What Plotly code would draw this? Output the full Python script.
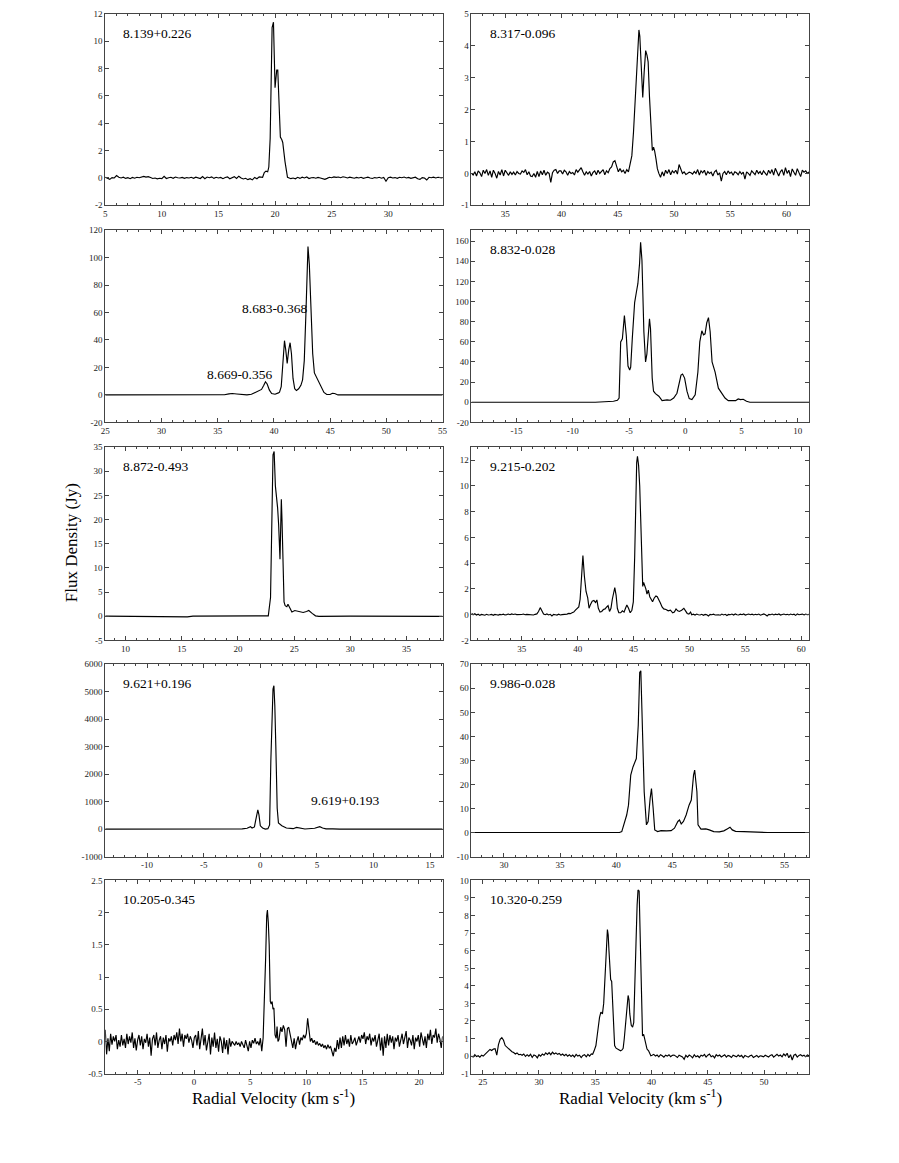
import plotly.graph_objects as go

W, H = 899, 1163          # browser window
OFF = 8                   # default page margin around the plot div

# ---------------- Panel 1 : 8.139+0.226 ----------------
P1_NAME = "8.139+0.226"
P1_XRANGE = [5.0, 34.8]
P1_YRANGE = [-2, 12]
P1_XTICKS = [5, 10, 15, 20, 25, 30]
P1_YTICKS = [-2, 0, 2, 4, 6, 8, 10, 12]
P1_STEP = 0.2
P1_A_START = 5.0
P1_A = [0.05, 0.0, -0.1, 0.03, 0.0, 0.18, 0.05, 0.0, 0.06, -0.03,
        0.02, -0.05, 0.04, -0.02, 0.05, 0.02, 0.08, 0.12, 0.06, 0.1,
        0.03, -0.04, 0.0, -0.06, -0.02, -0.05, 0.12, -0.04, 0.02, 0.05,
        -0.02, 0.07, 0.02, 0.0, 0.04, -0.03, 0.03, 0.0, 0.05, -0.02,
        0.06, 0.02, -0.04, 0.1, -0.05, 0.07, 0.02, 0.08, -0.03, 0.05,
        0.0, 0.04, -0.05, 0.03, 0.08, -0.06, 0.02, 0.1, -0.04, 0.13,
        0.0, -0.07, -0.02, -0.12, -0.05, -0.14, 0.04, -0.06, 0.08, 0.05]
P1_PEAK = [(18.9, 0.05), (19.05, 0.4), (19.2, 0.5), (19.35, 0.45), (19.45, 0.8),
           (19.57, 2.9), (19.66, 7.5), (19.74, 11.0), (19.8, 11.2), (19.86, 11.4),
           (19.93, 9.0), (20.0, 6.6), (20.08, 7.3), (20.15, 7.9), (20.24, 7.9),
           (20.32, 5.8), (20.47, 3.0), (20.6, 2.8), (20.68, 2.6), (20.88, 1.2),
           (21.1, 0.05), (21.25, 0.0)]
P1_B_START = 21.4
P1_B = [-0.05, 0.0, -0.06, 0.05, -0.03, 0.06, 0.0, 0.07, -0.04, 0.02,
        0.03, -0.02, 0.04, 0.0, -0.05, -0.1, -0.03, 0.05, 0.02, 0.08,
        0.04, 0.07, 0.02, 0.09, 0.05, 0.0, 0.06, 0.03, -0.02, 0.04,
        0.0, 0.05, -0.03, 0.02, 0.06, 0.0, -0.04, 0.03, 0.0, 0.05,
        -0.02, 0.04, -0.24, 0.02, 0.06, 0.0, 0.03, -0.03, 0.05, 0.02,
        0.07, 0.0, 0.04, -0.03, 0.02, 0.06, -0.06, -0.1, 0.03, 0.0,
        -0.15, 0.05, 0.02, 0.06, 0.0, 0.05, 0.03, 0.0]

# ---------------- Panel 2 : 8.317-0.096 ----------------
P2_NAME = "8.317-0.096"
P2_XRANGE = [32.0, 62.0]
P2_YRANGE = [-1, 5]
P2_XTICKS = [35, 40, 45, 50, 55, 60]
P2_YTICKS = [-1, 0, 1, 2, 3, 4, 5]
P2_STEP = 0.15
P2_A_START = 32.0
P2_A = [0.0, -0.05, 0.05, -0.08, 0.08, 0.02, -0.1, 0.1, 0.0, 0.12,
        -0.06, 0.08, -0.12, 0.1, 0.0, -0.15, 0.06, -0.05, 0.12, -0.08,
        0.1, 0.0, -0.06, 0.05, -0.03, 0.04, -0.05, 0.06, 0.0, -0.02,
        0.08, 0.03, 0.12, -0.04, 0.05, -0.08, -0.1, 0.0, -0.12, 0.06,
        -0.1, 0.08, -0.04, 0.1, -0.06, 0.04, 0.0, -0.28, 0.02, 0.1,
        0.12, 0.0, 0.08, 0.08, -0.02, 0.1, 0.05, -0.06, 0.06, 0.0,
        0.03, -0.05, 0.12, 0.04, 0.1, 0.18, 0.05, -0.06, 0.05, -0.02,
        0.06, -0.08, 0.03, 0.08, -0.04, 0.1, 0.0, 0.05, 0.12, -0.04,
        0.08, 0.02, 0.15, 0.2]
P2_PEAK = [(44.6, 0.36), (44.75, 0.4), (44.9, 0.25), (45.05, 0.05), (45.2, 0.15),
           (45.35, 0.05), (45.5, 0.1), (45.65, 0.0), (45.8, 0.12), (45.95, 0.05),
           (46.1, 0.3), (46.25, 0.55), (46.4, 1.3), (46.58, 2.6), (46.75, 3.9),
           (46.88, 4.5), (46.96, 4.3), (47.1, 3.2), (47.22, 2.38), (47.35, 3.2),
           (47.48, 3.85), (47.6, 3.7), (47.7, 3.5), (47.82, 2.4), (47.95, 1.4),
           (48.07, 0.72), (48.18, 0.82), (48.28, 0.7), (48.4, 0.45), (48.52, 0.15),
           (48.65, 0.0)]
P2_B_START = 48.8
P2_B = [-0.12, 0.05, -0.08, 0.1, 0.0, 0.12, -0.04, 0.08, 0.02, 0.1,
        -0.02, 0.28, 0.15, 0.0, 0.05, -0.03, 0.0, 0.04, 0.02, -0.02,
        0.06, 0.0, 0.12, -0.05, 0.08, 0.02, 0.1, -0.06, 0.06, 0.0,
        0.04, -0.08, 0.05, 0.1, -0.05, 0.02, -0.24, 0.0, 0.06, -0.04,
        0.08, 0.0, 0.04, -0.06, 0.05, 0.02, -0.04, 0.06, -0.02, 0.04,
        -0.18, 0.05, 0.0, -0.06, 0.08, 0.02, -0.04, 0.1, 0.0, 0.06,
        -0.04, 0.08, 0.02, -0.06, 0.1, 0.0, 0.12, -0.05, 0.16, 0.02,
        -0.08, 0.05, 0.12, -0.06, 0.18, 0.0, 0.1, -0.1, 0.14, 0.04,
        -0.06, 0.15, 0.02, -0.1, 0.1, 0.04, 0.08, 0.0, 0.05]

# ---------------- Panel 3 : 8.683-0.368 / 8.669-0.356 ----------------
P3_NAME = "8.683-0.368"
P3_NAME2 = "8.669-0.356"
P3_XRANGE = [25.0, 55.0]
P3_YRANGE = [-20, 120]
P3_XTICKS = [25, 30, 35, 40, 45, 50, 55]
P3_YTICKS = [-20, 0, 20, 40, 60, 80, 100, 120]
P3_PEAK = [(25.0, 0.0), (33.0, 0.0), (35.6, 0.1), (36.0, 0.8), (36.3, 1.0), (36.7, 0.7),
           (37.0, 0.3), (37.6, 0.0), (38.0, 0.5), (38.5, 2.4), (38.9, 4.0), (39.1, 7.0),
           (39.25, 9.6), (39.4, 8.0), (39.6, 3.5), (39.8, 1.0), (40.1, 0.5), (40.4, 1.5),
           (40.5, 2.0), (40.65, 6.0), (40.8, 25.0), (40.94, 39.5), (41.05, 33.0),
           (41.18, 23.0), (41.32, 33.0), (41.44, 38.0), (41.56, 30.0), (41.7, 12.0),
           (41.85, 4.5), (42.0, 3.2), (42.2, 4.5), (42.4, 7.0), (42.55, 11.0),
           (42.7, 25.0), (42.85, 60.0), (43.03, 108.0), (43.15, 95.0), (43.3, 60.0),
           (43.45, 30.0), (43.6, 16.0), (43.8, 12.5), (44.0, 10.0), (44.2, 6.0),
           (44.45, 1.8), (44.7, 0.3), (45.0, 0.3), (45.2, 1.2), (45.4, 1.0),
           (45.7, 0.0), (55.0, 0.0)]

# ---------------- Panel 4 : 8.832-0.028 ----------------
P4_NAME = "8.832-0.028"
P4_XRANGE = [-19.0, 11.0]
P4_YRANGE = [-20, 171]
P4_XTICKS = [-15, -10, -5, 0, 5, 10]
P4_YTICKS = [-20, 0, 20, 40, 60, 80, 100, 120, 140, 160]
P4_PEAK = [(-19.0, 0.0), (-8.0, 0.0), (-6.38, 1.0), (-6.03, 2.0), (-5.88, 4.2), (-5.74, 60.0),
           (-5.59, 63.0), (-5.41, 86.0), (-5.24, 66.0), (-5.09, 36.0), (-4.94, 32.0),
           (-4.85, 35.0), (-4.71, 63.0), (-4.5, 99.0), (-4.35, 109.0), (-4.21, 118.0),
           (-4.06, 138.0), (-3.97, 159.0), (-3.85, 141.0), (-3.68, 70.0), (-3.53, 40.0),
           (-3.41, 48.0), (-3.18, 83.0), (-3.09, 73.0), (-2.94, 24.0), (-2.82, 11.0),
           (-2.65, 8.5), (-2.35, 6.0), (-2.06, 1.6), (-1.62, 2.3), (-1.32, 2.0),
           (-1.03, 4.2), (-0.74, 9.0), (-0.59, 17.0), (-0.38, 27.0), (-0.24, 28.0),
           (-0.06, 24.0), (0.15, 11.0), (0.35, 3.6), (0.59, 2.6), (0.88, 7.5),
           (1.12, 30.0), (1.29, 60.0), (1.47, 71.0), (1.62, 67.0), (1.76, 68.0),
           (1.91, 79.0), (2.06, 84.0), (2.21, 70.0), (2.38, 40.0), (2.65, 30.0),
           (2.94, 14.0), (3.24, 9.0), (3.53, 4.2), (3.82, 1.6), (4.12, 1.6),
           (4.47, 1.6), (4.7, 3.3), (4.91, 2.6), (5.15, 3.0), (5.44, 1.0),
           (5.74, 0.0), (11.0, 0.0)]

# ---------------- Panel 5 : 8.872-0.493 ----------------
P5_NAME = "8.872-0.493"
P5_XRANGE = [8.2, 38.2]
P5_YRANGE = [-5, 35]
P5_XTICKS = [10, 15, 20, 25, 30, 35]
P5_YTICKS = [-5, 0, 5, 10, 15, 20, 25, 30, 35]
P5_PEAK = [(8.2, 0.05), (12.0, 0.0), (15.5, -0.1), (16.0, 0.05), (20.0, 0.1), (21.0, 0.18),
           (22.0, 0.08), (22.7, 0.1), (22.9, 3.9), (23.0, 22.0), (23.12, 33.4),
           (23.22, 34.1), (23.33, 27.0), (23.53, 22.4), (23.62, 19.0), (23.74, 11.8),
           (23.86, 24.2), (23.92, 20.0), (24.02, 6.0), (24.1, 3.0), (24.2, 2.2),
           (24.35, 2.0), (24.45, 2.5), (24.6, 1.8), (24.8, 0.9), (25.06, 1.2),
           (25.5, 1.0), (25.8, 0.8), (26.1, 1.0), (26.3, 1.2), (26.6, 0.6),
           (26.9, 0.1), (27.2, 0.0), (30.0, 0.05), (38.2, 0.0)]

# ---------------- Panel 6 : 9.215-0.202 ----------------
P6_NAME = "9.215-0.202"
P6_XRANGE = [30.5, 60.7]
P6_YRANGE = [-2, 13]
P6_XTICKS = [35, 40, 45, 50, 55, 60]
P6_YTICKS = [-2, 0, 2, 4, 6, 8, 10, 12]
P6_STEP = 0.15
P6_A_START = 30.5
P6_A = [0.12, 0.0, 0.08, -0.02, 0.04, -0.05, 0.02, 0.0, -0.04, 0.03,
        -0.02, 0.0, 0.03, -0.05, 0.02, 0.0, -0.03, 0.02, 0.0, 0.04,
        -0.02, 0.01, 0.05, 0.0, 0.06, 0.02, 0.05, 0.01, 0.0, 0.04,
        0.02, 0.05, 0.0, 0.03, 0.02, 0.0, 0.04, -0.02, 0.03, 0.06,
        0.25, 0.55, 0.3, 0.05, 0.0, 0.06, -0.02, 0.03, -0.1, 0.02,
        0.0, -0.03, 0.04, -0.02, 0.01, 0.03, 0.0, 0.05, 0.1, 0.08,
        0.15, 0.2, 0.35]
P6_PEAK = [(39.95, 0.45), (40.1, 0.6), (40.22, 1.2), (40.35, 3.2), (40.47, 4.6), (40.6, 3.0),
           (40.75, 1.8), (40.9, 1.3), (41.02, 0.5), (41.15, 0.8), (41.3, 1.05), (41.45, 1.1),
           (41.6, 0.95), (41.72, 1.15), (41.85, 0.5), (42.0, 0.2), (42.15, 0.25), (42.3, 0.4),
           (42.45, 0.45), (42.6, 0.6), (42.72, 0.7), (42.85, 0.25), (42.98, 0.5), (43.1, 1.2),
           (43.22, 1.9), (43.32, 2.1), (43.44, 1.5), (43.55, 0.5), (43.68, 0.15), (43.85, 0.15),
           (44.0, 0.3), (44.15, 0.2), (44.28, 0.5), (44.4, 0.75), (44.55, 0.5), (44.7, 0.15),
           (44.85, 0.35), (44.98, 1.0), (45.1, 4.5), (45.2, 9.0), (45.28, 11.8), (45.35, 12.3),
           (45.45, 11.6), (45.55, 10.0), (45.65, 6.5), (45.75, 3.0), (45.82, 2.2), (45.9, 2.5),
           (46.0, 2.3), (46.1, 2.0), (46.2, 1.6), (46.32, 1.9), (46.45, 1.4), (46.58, 1.2),
           (46.7, 1.0), (46.85, 1.3), (47.0, 1.45), (47.12, 1.4), (47.25, 1.2), (47.4, 0.9),
           (47.55, 0.6), (47.7, 0.45), (47.9, 0.4), (48.1, 0.3), (48.3, 0.35), (48.5, 0.15),
           (48.65, 0.2), (48.8, 0.45), (48.95, 0.3), (49.1, 0.25), (49.3, 0.35), (49.5, 0.5),
           (49.65, 0.3), (49.8, 0.1), (49.95, 0.05), (50.1, 0.2)]
P6_B_START = 50.2
P6_B = [0.0, 0.04, -0.03, 0.05, 0.0, -0.02, 0.03, -0.05, 0.02, 0.0,
        -0.1, 0.03, 0.0, 0.04, -0.02, 0.02, 0.0, -0.04, 0.05, -0.02,
        0.03, -0.06, 0.02, 0.0, 0.05, -0.03, 0.06, 0.0, -0.02, 0.04,
        0.0, 0.06, -0.03, 0.02, 0.05, 0.0, 0.04, -0.02, 0.03, 0.0,
        0.05, -0.04, 0.02, 0.06, 0.0, -0.1, 0.03, 0.0, 0.05, -0.02,
        0.04, 0.0, 0.06, -0.03, 0.02, 0.05, 0.0, 0.03, -0.02, 0.05,
        0.0, 0.04, -0.05, 0.06, 0.0, 0.03, 0.05, -0.02, 0.04, 0.0,
        0.03]

# ---------------- Panel 7 : 9.621+0.196 / 9.619+0.193 ----------------
P7_NAME = "9.621+0.196"
P7_NAME2 = "9.619+0.193"
P7_XRANGE = [-13.7, 16.1]
P7_YRANGE = [-1000, 6000]
P7_XTICKS = [-10, -5, 0, 5, 10, 15]
P7_YTICKS = [-1000, 0, 1000, 2000, 3000, 4000, 5000, 6000]
P7_PEAK = [(-13.7, 0), (-2.1, 0), (-1.6, 10), (-1.17, 30), (-0.87, 90), (-0.73, 40),
           (-0.52, 80), (-0.42, 300), (-0.3, 600), (-0.22, 700), (-0.12, 520), (0.0, 120),
           (0.2, 40), (0.44, 0), (0.67, 15), (0.82, 150), (0.93, 2500), (1.02, 4300),
           (1.12, 5100), (1.2, 5220), (1.28, 4500), (1.37, 3000), (1.49, 760), (1.6, 220),
           (1.9, 120), (2.3, 40), (2.9, 15), (3.2, 60), (3.5, 35), (3.94, 5), (4.8, 30),
           (5.25, 90), (5.5, 40), (5.8, 10), (6.4, 10), (7.0, 0), (16.1, 0)]

# ---------------- Panel 8 : 9.986-0.028 ----------------
P8_NAME = "9.986-0.028"
P8_XRANGE = [27.1, 57.2]
P8_YRANGE = [-10, 70]
P8_XTICKS = [30, 35, 40, 45, 50, 55]
P8_YTICKS = [-10, 0, 10, 20, 30, 40, 50, 60, 70]
P8_PEAK = [(27.1, 0), (35.0, 0), (40.3, 0), (40.5, 0.4), (40.7, 3.2), (40.94, 7.3), (41.1, 11.4),
           (41.3, 23.9), (41.5, 27.3), (41.8, 30.8), (41.97, 44.6), (42.1, 66.6), (42.2, 67.3),
           (42.35, 44.6), (42.5, 17), (42.7, 3.2), (42.85, 4.6), (43.03, 14.2), (43.15, 18.3),
           (43.3, 10), (43.44, 1.1), (43.7, 0.4), (44.0, 0.8), (44.5, 0.7), (44.9, 0.8),
           (45.2, 1.8), (45.5, 4.6), (45.65, 5.2), (45.8, 3.6), (46.0, 4.6), (46.24, 7.3),
           (46.5, 11.4), (46.7, 13.5), (46.9, 23.9), (47.0, 26), (47.2, 17), (47.3, 3.2),
           (47.56, 1.4), (48.0, 1.5), (48.3, 1.1), (48.7, 0.4), (49.2, 0.3), (49.6, 0.7),
           (49.9, 1.5), (50.15, 2.2), (50.35, 1.1), (50.65, 0.5), (51.4, 0.4), (52.5, 0.2),
           (53.5, 0), (57.2, 0)]

# ---------------- Panel 9 : 10.205-0.345 ----------------
P9_NAME = "10.205-0.345"
P9_XRANGE = [-7.9, 22.1]
P9_YRANGE = [-0.5, 2.5]
P9_XTICKS = [-5, 0, 5, 10, 15, 20]
P9_YTICKS = [-0.5, 0, 0.5, 1, 1.5, 2, 2.5]
P9_STEP = 0.12
P9_A_START = -7.9
P9_A = [0.18, -0.2, 0.05, -0.15, 0.12, -0.05, 0.08, 0.0, 0.1, -0.12,
        0.02, -0.08, 0.1, -0.06, 0.04, -0.1, 0.12, -0.04, 0.08, -0.02,
        0.14, -0.1, 0.05, -0.14, 0.02, 0.1, -0.06, 0.08, -0.12, 0.04,
        -0.02, 0.12, -0.08, 0.06, -0.22, 0.04, 0.1, -0.06, 0.14, -0.1,
        0.02, 0.08, -0.12, 0.06, -0.04, 0.1, -0.16, 0.05, 0.0, 0.08,
        -0.06, 0.1, 0.02, 0.14, -0.04, 0.2, 0.0, 0.12, -0.08, 0.1,
        0.04, 0.12, -0.02, 0.08, 0.02, -0.1, 0.06, 0.1, -0.06, 0.16,
        -0.12, 0.04, 0.2, -0.06, 0.1, -0.14, 0.02, 0.12, -0.2, 0.06,
        -0.08, 0.14, -0.1, 0.04, -0.16, 0.08, 0.0, -0.18, 0.06, -0.12,
        0.02, -0.2, 0.05, -0.08, 0.0, -0.04, -0.06, 0.0, -0.05, -0.02,
        -0.08, 0.0, -0.04, -0.1, 0.02, -0.06, -0.15, 0.0, -0.1, 0.02,
        -0.03, 0.05, -0.04, 0.0, -0.06, 0.05, -0.15]
P9_PEAK = [(6.14, 0.05), (6.26, 0.6), (6.36, 1.27), (6.46, 1.95), (6.52, 2.04), (6.6, 1.85),
           (6.68, 1.5), (6.78, 0.62), (6.86, 0.58), (6.94, 0.62), (7.02, 0.5), (7.1, 0.52),
           (7.2, 0.1), (7.3, 0.05), (7.38, 0.23), (7.46, 0.0), (7.55, 0.03)]
P9_B_START = 7.7
P9_B = [0.22, 0.15, 0.25, 0.18, -0.08, 0.2, 0.22, 0.12, 0.02, -0.1,
        0.05, -0.12, 0.0, 0.08, -0.05, 0.06, 0.02, 0.1, 0.05, 0.12,
        0.36, 0.12, 0.0, 0.05, -0.02, 0.02, -0.05, 0.0, -0.06, -0.03,
        -0.08, -0.04, -0.1, -0.06, -0.12, -0.05, -0.1, -0.08, -0.15, -0.23,
        -0.1, -0.16, 0.02, -0.12, 0.06, -0.1, 0.08, -0.06, 0.1, -0.04,
        0.04, -0.08, 0.1, -0.04, 0.0, 0.06, -0.06, 0.02, 0.08, -0.02,
        0.1, 0.04, 0.14, -0.04, 0.08, 0.02, 0.12, -0.06, 0.06, 0.0,
        0.1, -0.08, 0.04, 0.12, -0.14, 0.06, -0.22, 0.08, -0.1, 0.12,
        -0.06, 0.1, -0.02, 0.08, -0.12, 0.06, 0.0, 0.1, -0.08, 0.04,
        0.12, -0.04, 0.08, 0.16, -0.1, 0.06, 0.02, -0.06, 0.1, -0.12,
        0.06, 0.0, 0.1, -0.08, 0.14, 0.04, -0.06, 0.08, -0.1, 0.12,
        0.02, 0.18, -0.04, 0.1, 0.06, 0.2, -0.02, 0.12, 0.04, -0.1,
        0.08]

# ---------------- Panel 10 : 10.320-0.259 ----------------
P10_NAME = "10.320-0.259"
P10_XRANGE = [24.0, 54.0]
P10_YRANGE = [-1, 10]
P10_XTICKS = [25, 30, 35, 40, 45, 50]
P10_YTICKS = [-1, 0, 1, 2, 3, 4, 5, 6, 7, 8, 9, 10]
P10_STEP = 0.15
P10_A_START = 24.0
P10_A = [0.0, -0.05, 0.08, -0.03, 0.02, -0.06, 0.05, 0.0, 0.1, 0.2,
         0.3, 0.38, 0.32, 0.4, 0.42, 0.05, 0.65, 0.95, 1.05, 0.9,
         0.6, 0.5, 0.42, 0.35, 0.25, 0.2, 0.12, 0.18, 0.08, 0.1,
         0.05, 0.12, -0.02, 0.08, 0.0, 0.1, -0.08, 0.06, 0.02, -0.1,
         0.08, 0.0, 0.12, 0.05, 0.18, 0.1, 0.2, 0.08, 0.22, 0.12,
         0.18, 0.1, 0.15, 0.05, 0.12, 0.02, 0.1, 0.0, 0.08, -0.02,
         0.06, -0.05, 0.1, 0.0, 0.05, -0.08, 0.04, 0.08, -0.04, 0.1,
         0.0, 0.12]
P10_PEAK = [(34.77, 0.1), (34.9, 0.3), (35.06, 0.6), (35.18, 1.2), (35.26, 1.7), (35.38, 2.2),
            (35.5, 2.5), (35.64, 2.4), (35.75, 3.0), (35.85, 4.0), (35.97, 5.8), (36.08, 7.2),
            (36.15, 6.9), (36.22, 6.0), (36.3, 5.0), (36.37, 4.35), (36.46, 4.25), (36.53, 3.4),
            (36.6, 2.2), (36.72, 0.6), (36.85, 0.45), (36.96, 0.4), (37.1, 0.35), (37.25, 0.3),
            (37.38, 0.35), (37.48, 0.45), (37.58, 1.0), (37.69, 1.9), (37.8, 2.9), (37.92, 3.45),
            (38.0, 3.2), (38.07, 2.4), (38.2, 1.75), (38.32, 1.65), (38.42, 1.9), (38.52, 3.6),
            (38.62, 6.4), (38.72, 8.6), (38.8, 9.45), (38.9, 9.4), (38.98, 7.5), (39.06, 4.5),
            (39.14, 2.2), (39.2, 1.15), (39.3, 1.24), (39.37, 1.0), (39.44, 0.77), (39.52, 0.55),
            (39.6, 0.4), (39.74, 0.3), (39.84, 0.15), (39.94, 0.02)]
P10_B_START = 40.05
P10_B = [0.05, 0.1, 0.0, 0.06, -0.04, 0.08, 0.02, -0.06, 0.05, 0.0,
         0.08, -0.03, 0.04, 0.06, 0.0, -0.08, 0.05, 0.02, -0.05, -0.18,
         0.04, -0.06, 0.06, 0.0, -0.1, 0.08, -0.04, 0.02, -0.08, 0.05,
         0.0, 0.1, -0.06, 0.05, 0.12, -0.04, 0.02, -0.1, 0.08, 0.0,
         0.06, -0.05, 0.02, 0.08, -0.06, 0.04, 0.0, -0.08, 0.05, 0.02,
         -0.04, 0.06, -0.02, 0.04, -0.1, 0.03, 0.0, -0.06, 0.02, 0.05,
         -0.08, 0.0, 0.04, -0.06, 0.02, 0.0, -0.04, 0.05, 0.02, -0.05,
         0.04, 0.08, -0.06, 0.02, 0.1, 0.0, 0.06, -0.04, 0.12, 0.02,
         0.16, -0.1, 0.08, -0.22, 0.05, 0.1, -0.06, 0.04, 0.08, 0.0,
         0.05, -0.04, 0.06, 0.02]

X_TITLE = "Radial Velocity (km s<sup>-1</sup>)"
Y_TITLE = "Flux Density (Jy)"


def spectrum(step=None, a_start=None, a=(), peak=(), b_start=None, b=()):
    v, f = [], []
    for i, val in enumerate(a):
        v.append(round(a_start + i * step, 4))
        f.append(val)
    for pv, pf in peak:
        v.append(pv)
        f.append(pf)
    for i, val in enumerate(b):
        v.append(round(b_start + i * step, 4))
        f.append(val)
    return v, f


PANELS = [
    dict(name=P1_NAME, xr=P1_XRANGE, yr=P1_YRANGE, xt=P1_XTICKS, yt=P1_YTICKS,
         data=spectrum(P1_STEP, P1_A_START, P1_A, P1_PEAK, P1_B_START, P1_B)),
    dict(name=P2_NAME, xr=P2_XRANGE, yr=P2_YRANGE, xt=P2_XTICKS, yt=P2_YTICKS,
         data=spectrum(P2_STEP, P2_A_START, P2_A, P2_PEAK, P2_B_START, P2_B)),
    dict(name=P3_NAME, xr=P3_XRANGE, yr=P3_YRANGE, xt=P3_XTICKS, yt=P3_YTICKS,
         data=spectrum(peak=P3_PEAK)),
    dict(name=P4_NAME, xr=P4_XRANGE, yr=P4_YRANGE, xt=P4_XTICKS, yt=P4_YTICKS,
         data=spectrum(peak=P4_PEAK)),
    dict(name=P5_NAME, xr=P5_XRANGE, yr=P5_YRANGE, xt=P5_XTICKS, yt=P5_YTICKS,
         data=spectrum(peak=P5_PEAK)),
    dict(name=P6_NAME, xr=P6_XRANGE, yr=P6_YRANGE, xt=P6_XTICKS, yt=P6_YTICKS,
         data=spectrum(P6_STEP, P6_A_START, P6_A, P6_PEAK, P6_B_START, P6_B)),
    dict(name=P7_NAME, xr=P7_XRANGE, yr=P7_YRANGE, xt=P7_XTICKS, yt=P7_YTICKS,
         data=spectrum(peak=P7_PEAK)),
    dict(name=P8_NAME, xr=P8_XRANGE, yr=P8_YRANGE, xt=P8_XTICKS, yt=P8_YTICKS,
         data=spectrum(peak=P8_PEAK)),
    dict(name=P9_NAME, xr=P9_XRANGE, yr=P9_YRANGE, xt=P9_XTICKS, yt=P9_YTICKS,
         data=spectrum(P9_STEP, P9_A_START, P9_A, P9_PEAK, P9_B_START, P9_B)),
    dict(name=P10_NAME, xr=P10_XRANGE, yr=P10_YRANGE, xt=P10_XTICKS, yt=P10_YTICKS,
         data=spectrum(P10_STEP, P10_A_START, P10_A, P10_PEAK, P10_B_START, P10_B)),
]

# layout geometry, in window pixels
COL_PX = [(101.3, 442.5), (471.7, 813.2)]
ROW_PX = [(9, 202), (227, 421), (446, 641), (665, 859), (883, 1078)]

FW, FH = W - 2 * OFF, H - 2 * OFF   # figure size inside the page margin


def px_x(x):
    return min(1.0, max(0.0, (x - OFF) / FW))


def px_y(y):
    return min(1.0, max(0.0, 1 - (y - OFF) / FH))


FONT = "Liberation Serif"
AX = "#444444"
TICKFONT = dict(family=FONT, size=9, color="#222")
LABELFONT = dict(family=FONT, size=13.5, color="black")


def fmt(t):
    t = float(t)
    return str(int(t)) if t.is_integer() else str(t)


fig = go.Figure()
annotations = []
for i, p in enumerate(PANELS):
    k = i + 1
    xa = "x" if k == 1 else f"x{k}"
    ya = "y" if k == 1 else f"y{k}"
    r, c = divmod(i, 2)
    v, f = p["data"]
    fig.add_trace(go.Scatter(x=v, y=f, mode="lines", xaxis=xa, yaxis=ya,
                             line=dict(color="black", width=1.15),
                             showlegend=False, hoverinfo="skip"))
    x0, x1 = COL_PX[c]
    top, bot = ROW_PX[r]
    fig.layout["xaxis" if k == 1 else f"xaxis{k}"] = dict(
        domain=[px_x(x0), px_x(x1)], anchor=ya, range=p["xr"],
        tickmode="array", tickvals=p["xt"], ticktext=[fmt(t) for t in p["xt"]],
        ticks="inside", ticklen=4, tickwidth=1, tickcolor=AX,
        minor=dict(tickmode="linear", tick0=0, dtick=1, ticks="inside",
                   ticklen=2, tickwidth=1, tickcolor=AX),
        showline=True, linecolor=AX, linewidth=1, mirror="ticks",
        showgrid=False, zeroline=False, tickfont=TICKFONT)
    fig.layout["yaxis" if k == 1 else f"yaxis{k}"] = dict(
        domain=[px_y(bot), px_y(top)], anchor=xa, range=p["yr"],
        tickmode="array", tickvals=p["yt"], ticktext=[fmt(t) for t in p["yt"]],
        ticks="inside", ticklen=4, tickwidth=1, tickcolor=AX,
        showline=True, linecolor=AX, linewidth=1, mirror="ticks",
        showgrid=False, zeroline=False, tickfont=TICKFONT)
    annotations.append(dict(text=p["name"], xref=f"{xa} domain", yref=f"{ya} domain",
                            x=0.048, y=0.9, xanchor="left", yanchor="middle",
                            showarrow=False, font=LABELFONT))

# main label of panel 3 sits beside the main peak
annotations[2]["x"] = 0.40
annotations[2]["y"] = 0.593
# secondary source labels
annotations.append(dict(text=P3_NAME2, xref="x3 domain", yref="y3 domain", x=0.297, y=0.247,
                        xanchor="left", yanchor="middle", showarrow=False, font=LABELFONT))
annotations.append(dict(text=P7_NAME2, xref="x7 domain", yref="y7 domain", x=0.603, y=0.294,
                        xanchor="left", yanchor="middle", showarrow=False, font=LABELFONT))

# axis titles
annotations.append(dict(text=Y_TITLE, xref="paper", yref="paper", x=px_x(67.5), y=px_y(542),
                        textangle=-90, xanchor="center", yanchor="middle", showarrow=False,
                        font=dict(family=FONT, size=17, color="black")))
for c in range(2):
    cx = (COL_PX[c][0] + COL_PX[c][1]) / 2
    annotations.append(dict(text=X_TITLE, xref="paper", yref="paper", x=px_x(cx), y=px_y(1102),
                            xanchor="center", yanchor="middle", showarrow=False,
                            font=dict(family=FONT, size=17, color="black")))

fig.update_layout(width=FW, height=FH, margin=dict(l=0, r=0, t=0, b=0),
                  paper_bgcolor="white", plot_bgcolor="white",
                  annotations=annotations, showlegend=False)

fig.write_html("out.html")
